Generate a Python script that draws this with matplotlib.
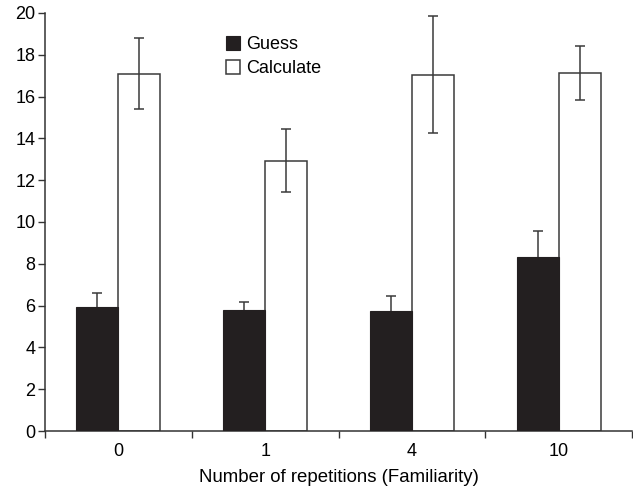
import matplotlib
matplotlib.use("Agg")
import matplotlib.pyplot as plt
import numpy as np

categories = ["0", "1", "4", "10"]
guess = [5.93, 5.79, 5.76, 8.33]
guess_err = [0.69, 0.40, 0.70, 1.24]
calc = [17.08, 12.93, 17.03, 17.14]
calc_err_low = [1.67, 1.48, 2.79, 1.30]
calc_err_high = [1.74, 1.52, 2.83, 1.29]
yticks = [0, 2, 4, 6, 8, 10, 12, 14, 16, 18, 20]

plt.rcParams['font.family'] = ['Liberation Sans', 'DejaVu Sans']
fig = plt.figure(figsize=(6.33, 4.88), dpi=100)
ax = fig.add_axes([45/633, 57/488, 587/633, 418/488])

x = np.arange(len(categories))
w = 0.287
dark = '#231f20'
edge = '#3a3a3a'
ax.bar(x - w/2, guess, w, color=dark, edgecolor=dark, linewidth=0.8, label='Guess', zorder=3)
ax.bar(x + w/2, calc, w, color='white', edgecolor=edge, linewidth=1.1, label='Calculate', zorder=2)
ax.errorbar(x - w/2, guess, yerr=guess_err, fmt='none', ecolor=edge, elinewidth=1.1, capsize=3.3, capthick=1.1, zorder=2)
ax.errorbar(x + w/2, calc, yerr=[calc_err_low, calc_err_high], fmt='none', ecolor=edge, elinewidth=1.1, capsize=3.3, capthick=1.1, zorder=3)

ax.set_xlim(-0.5, 3.5)
ax.set_ylim(0, 20)
ax.set_yticks(yticks)
ax.set_xticks(x)
ax.set_xticklabels(categories)
ax.set_xticks(np.arange(-0.5, 4.0, 1.0), minor=True)
ax.tick_params(axis='x', which='major', length=0, pad=9, labelsize=13)
ax.tick_params(axis='x', which='minor', length=5, width=1, direction='out', color='#333333')
ax.tick_params(axis='y', length=5, width=1, direction='out', labelsize=13, pad=2, color='#333333')
for s in ['top', 'right']:
    ax.spines[s].set_visible(False)
for s in ['left', 'bottom']:
    ax.spines[s].set_linewidth(1.1)
    ax.spines[s].set_color('#333333')
ax.set_xlabel('Number of repetitions (Familiarity)', fontsize=13.4, labelpad=6)

leg = ax.legend(loc='upper left', bbox_to_anchor=(0.296, 0.963), frameon=False, fontsize=13,
                handlelength=0.8, handleheight=0.8, handletextpad=0.3, labelspacing=0.4, borderaxespad=0)

fig.savefig('out.png', dpi=100)
